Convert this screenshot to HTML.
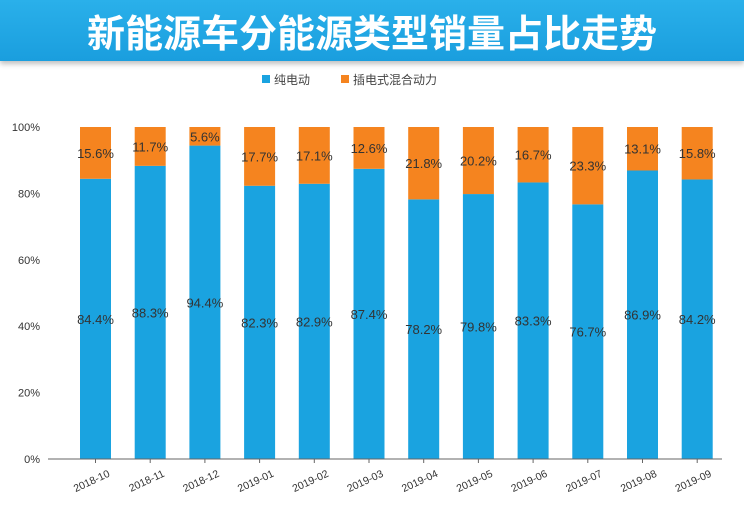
<!DOCTYPE html>
<html><head><meta charset="utf-8"><style>
body{margin:0;width:744px;height:528px;overflow:hidden;background:#fff;font-family:"Liberation Sans","Noto Sans CJK SC",sans-serif}
#banner{position:absolute;left:0;top:0;width:744px;height:61px;background:linear-gradient(#2ab0ea,#1a9ede);box-shadow:0 3px 5px rgba(0,0,0,.25)}
#title{position:absolute;left:0;top:3px;width:744px;text-align:center;color:#fff;font-size:38px;font-weight:bold;font-family:"Noto Sans CJK SC",sans-serif;letter-spacing:0px}
</style></head><body>
<div id="banner"><div id="title">新能源车分能源类型销量占比走势</div></div>
<svg id="chart" width="744" height="528" style="position:absolute;left:0;top:0">
<g>
<rect x="262" y="75" width="8" height="8" fill="#1aa3e0"/>
<text x="274" y="84" font-size="12" fill="#444" font-family="Noto Sans CJK SC,sans-serif">纯电动</text>
<rect x="341" y="75" width="8" height="8" fill="#f5841f"/>
<text x="353" y="84" font-size="12" fill="#444" font-family="Noto Sans CJK SC,sans-serif">插电式混合动力</text>
</g>
<g id="plot"></g>
</svg>
<script>
const categories=["2018-10","2018-11","2018-12","2019-01","2019-02","2019-03","2019-04","2019-05","2019-06","2019-07","2019-08","2019-09"];
const bev=[84.4,88.3,94.4,82.3,82.9,87.4,78.2,79.8,83.3,76.7,86.9,84.2];
const phev=[15.6,11.7,5.6,17.7,17.1,12.6,21.8,20.2,16.7,23.3,13.1,15.8];
const yTicks=[0,20,40,60,80,100];
const NS="http://www.w3.org/2000/svg";
const g=document.getElementById("plot");
const y0=459,y100=127,x0=95.5,dx=54.7,bw=31;
const Y=v=>y0+(y100-y0)*v/100;
const X=i=>x0+i*dx;
function mk(t,a){const e=document.createElementNS(NS,t);for(const k in a)e.setAttribute(k,a[k]);g.appendChild(e);return e;}
yTicks.forEach(t=>{
 const e=mk("text",{x:40,y:Y(t)+4,"text-anchor":"end","font-size":11,fill:"#333"});
 e.textContent=t+"%";
 
 
});
categories.forEach((c,i)=>{
 const b=mk("rect",{x:X(i)-bw/2,y:Y(bev[i]),width:bw,height:y0-Y(bev[i]),fill:"#1aa3e0"});
 
 
 const top=bev[i]+phev[i];
 const o=mk("rect",{x:X(i)-bw/2,y:Y(top),width:bw,height:Y(bev[i])-Y(top),fill:"#f5841f"});
 
 
 const l1=mk("text",{x:X(i),y:Y(bev[i]/2)+5,"text-anchor":"middle","font-size":13,fill:"#333"});
 l1.textContent=bev[i].toFixed(1)+"%";
 
 
 const l2=mk("text",{x:X(i),y:Y(bev[i]+phev[i]/2)+5,"text-anchor":"middle","font-size":13,fill:"#333"});
 l2.textContent=phev[i].toFixed(1)+"%";
 
 
 const tk=mk("line",{x1:X(i),x2:X(i),y1:y0,y2:y0+4,stroke:"#666"});
 
 
 const xl=mk("text",{x:X(i)+15,y:y0+17,"text-anchor":"end","font-size":10.5,fill:"#333",transform:`rotate(-25 ${X(i)+15} ${y0+17})`});
 xl.textContent=c;
 
 
});
const ax=mk("line",{x1:48,x2:722,y1:y0,y2:y0,stroke:"#666","stroke-width":1});


</script>
</body></html>
